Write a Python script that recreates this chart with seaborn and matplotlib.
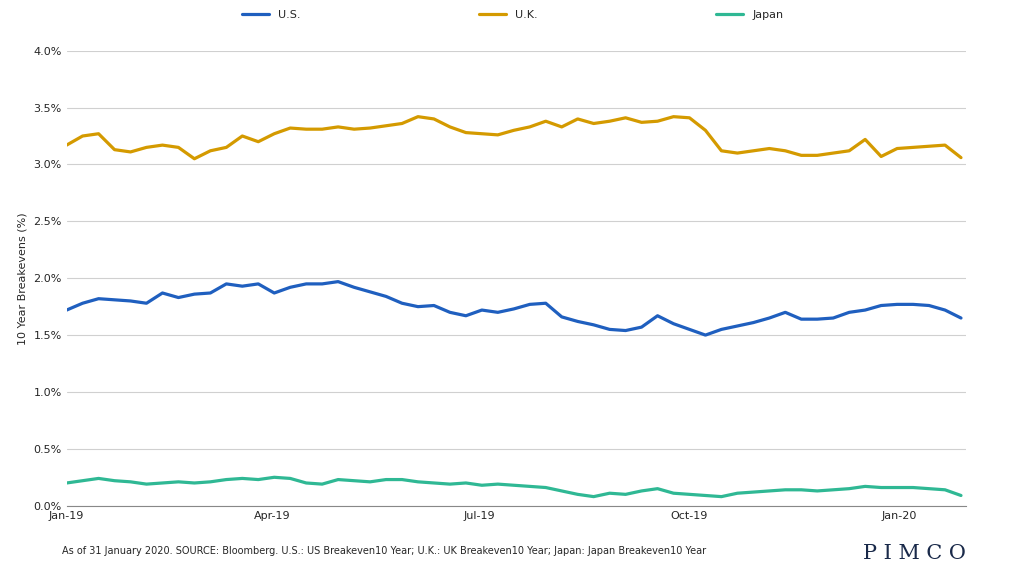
import matplotlib
matplotlib.use("Agg")
import matplotlib.pyplot as plt
import matplotlib.dates as mdates
import matplotlib.ticker as mticker
import seaborn as sns
import pandas as pd

start_date = "2019-01-01"
us = [1.72,1.78,1.82,1.81,1.80, 1.78,1.87,1.83,1.86, 1.87,1.95,1.93,1.95,
      1.87,1.92,1.95,1.95,1.97, 1.92,1.88,1.84,1.78, 1.75,1.76,1.70,1.67,
      1.72,1.70,1.73,1.77,1.78, 1.66,1.62,1.59,1.55, 1.54,1.57,1.67,1.60,
      1.55,1.50,1.55,1.58,1.61, 1.65,1.70,1.64,1.64, 1.65,1.70,1.72,1.76,1.77,
      1.77,1.76,1.72,1.65]
uk = [3.17,3.25,3.27,3.13,3.11, 3.15,3.17,3.15,3.05, 3.12,3.15,3.25,3.20,
      3.27,3.32,3.31,3.31,3.33, 3.31,3.32,3.34,3.36, 3.42,3.40,3.33,3.28,
      3.27,3.26,3.30,3.33,3.38, 3.33,3.40,3.36,3.38, 3.41,3.37,3.38,3.42,
      3.41,3.30,3.12,3.10,3.12, 3.14,3.12,3.08,3.08, 3.10,3.12,3.22,3.07,3.14,
      3.15,3.16,3.17,3.06]
japan = [0.20,0.22,0.24,0.22,0.21, 0.19,0.20,0.21,0.20, 0.21,0.23,0.24,0.23,
         0.25,0.24,0.20,0.19,0.23, 0.22,0.21,0.23,0.23, 0.21,0.20,0.19,0.20,
         0.18,0.19,0.18,0.17,0.16, 0.13,0.10,0.08,0.11, 0.10,0.13,0.15,0.11,
         0.10,0.09,0.08,0.11,0.12, 0.13,0.14,0.14,0.13, 0.14,0.15,0.17,0.16,0.16,
         0.16,0.15,0.14,0.09]
series_names = ["U.S.", "U.K.", "Japan"]
colors = ["#1f5fbf", "#d49a00", "#2fb894"]

dates = pd.date_range(start_date, periods=len(us), freq="7D")
df = pd.DataFrame({"date": dates, "U.S.": us, "U.K.": uk, "Japan": japan})
long = df.melt("date", var_name="series", value_name="value")

sns.set_style("white")
fig = plt.figure(figsize=(10.25, 5.76), dpi=100)
ax = fig.add_axes([0.065, 0.122, 0.877, 0.79])
sns.lineplot(data=long, x="date", y="value", hue="series", hue_order=series_names,
             palette=colors, linewidth=2.3, ax=ax)
ax.set_ylim(0, 4.0)
ax.set_xlim(pd.Timestamp("2019-01-01"), pd.Timestamp("2020-01-30"))
ax.yaxis.set_major_locator(mticker.MultipleLocator(0.5))
ax.yaxis.set_major_formatter(mticker.FuncFormatter(lambda v, p: f"{v:.1f}%"))
ax.xaxis.set_major_locator(mdates.MonthLocator(bymonth=[1, 4, 7, 10]))
ax.xaxis.set_major_formatter(mdates.DateFormatter("%b-%y"))
ax.grid(axis="y", color="#d0d0d0", linewidth=0.8)
for s in ["top", "right", "left"]:
    ax.spines[s].set_visible(False)
ax.spines["bottom"].set_color("#888888")
ax.tick_params(labelsize=8, length=0)
ax.set_xlabel("")
ax.set_ylabel("10 Year Breakevens (%)", fontsize=8)
handles, labels = ax.get_legend_handles_labels()
ax.get_legend().remove()
fig.legend(handles, labels, loc="upper center", bbox_to_anchor=(0.5, 1.0), ncol=3,
           frameon=False, fontsize=8, columnspacing=16, handlelength=2.5)
fig.text(0.06, 0.038, "As of 31 January 2020. SOURCE: Bloomberg. U.S.: US Breakeven10 Year; U.K.: UK Breakeven10 Year; Japan: Japan Breakeven10 Year",
         fontsize=7)
fig.text(0.942, 0.03, "P I M C O", fontsize=15, family="DejaVu Serif", color="#1a2a4a", ha="right")
fig.savefig("out.png", dpi=100)
